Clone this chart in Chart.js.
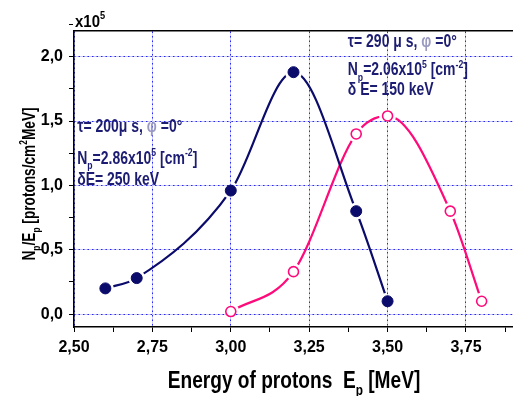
<!DOCTYPE html>
<html>
<head>
<meta charset="utf-8">
<script src="https://cdn.jsdelivr.net/npm/chart.js@4.4.1/dist/chart.umd.min.js"></script>
<style>html,body{margin:0;padding:0;background:#fff}</style>
</head>
<body>
<canvas id="myChart" width="513" height="396"></canvas>
<script>
// --- DONNÉES ---
const energie200 = [2.6, 2.7, 3.0, 3.2, 3.4, 3.5];
const flux200 = [0.20, 0.28, 0.96, 1.88, 0.80, 0.10];
const energie290 = [3.0, 3.2, 3.4, 3.5, 3.7, 3.8];
const flux290 = [0.02, 0.33, 1.40, 1.54, 0.80, 0.10];
const xTicks = [2.50, 2.75, 3.00, 3.25, 3.50, 3.75];
const yTicks = [0.0, 0.5, 1.0, 1.5, 2.0];

const police = "'Liberation Sans', Arial, sans-serif";
const bleu = '#0b0b6b';
const rose = '#ff0a7a';
const texteBleu = '#1c1c72';
const phiGris = '#9a9ac0';

// ticks secondaires au milieu des principaux
const xMineurs = xTicks.map(v => v + 0.125);
const yMineurs = yTicks.map(v => v + 0.25);
const estMajeur = (liste, v) => liste.some(t => Math.abs(t - v) < 1e-6);
const points = (xs, ys) => xs.map((x, i) => ({ x: x, y: ys[i] }));

// --- TEXTE AVEC INDICES / EXPOSANTS (police étroite simulée par 'serre') ---
function texteRiche(ctx, x, y, morceaux, taille, couleur, serre = 1, dessiner = true) {
    let cx = 0;
    ctx.save();
    ctx.translate(x, y);
    ctx.scale(serre, 1);
    morceaux.forEach(m => {
        const [txt, mode, col] = m;
        const t = mode ? taille * 0.62 : taille;
        const dy = mode === 'sub' ? taille * 0.3 : mode === 'sup' ? -taille * 0.45 : 0;
        ctx.font = 'bold ' + t + 'px ' + police;
        if (dessiner) {
            ctx.fillStyle = col || couleur;
            ctx.fillText(txt, cx, dy);
        }
        cx += ctx.measureText(txt).width;
    });
    ctx.restore();
    return cx * serre;
}

const annotations = [
    { x: 2.51, lignes: [
        { y: 1.418, m: [['τ= 200μ s, '], ['φ', '', phiGris], [' =0°']] },
        { y: 1.169, m: [['N'], ['p', 'sub'], ['=2.86x10'], ['5', 'sup'], [' [cm'], ['-2', 'sup'], [']']] },
        { y: 1.005, m: [['δE= 250 keV']] }
    ] },
    { x: 3.373, lignes: [
        { y: 2.076, m: [['τ= 290 μ s, '], ['φ', '', phiGris], [' =0°']] },
        { y: 1.855, m: [['N'], ['p', 'sub'], ['=2.06x10'], ['5', 'sup'], [' [cm'], ['-2', 'sup'], [']']] },
        { y: 1.705, m: [['δ E= 150 keV']] }
    ] }
];

const textes = {
    id: 'textes',
    afterDraw(chart) {
        const ctx = chart.ctx, sx = chart.scales.x, sy = chart.scales.y;
        ctx.save();
        ctx.textBaseline = 'alphabetic';
        ctx.textAlign = 'left';
        // x10^5
        texteRiche(ctx, 75, 27, [['x10'], ['5', 'sup']], 17, '#000', 0.88);
        // annotations
        annotations.forEach(a => {
            a.lignes.forEach(l => {
                texteRiche(ctx, sx.getPixelForValue(a.x), sy.getPixelForValue(l.y), l.m, 17.5, texteBleu, 0.8);
            });
        });
        // titre X
        const titreX = [['Energy of protons  E'], ['p', 'sub'], [' [MeV]']];
        const lx = texteRiche(ctx, 0, 0, titreX, 24.5, '#000', 0.78, false);
        texteRiche(ctx, 294 - lx / 2, 388, titreX, 24.5, '#000', 0.78);
        // titre Y
        const titreY = [['N'], ['p', 'sub'], ['/E'], ['p', 'sub'], [' [protons/cm'], ['2', 'sup'], ['MeV]']];
        const ly = texteRiche(ctx, 0, 0, titreY, 17.5, '#000', 0.78, false);
        ctx.translate(35, 184);
        ctx.rotate(-Math.PI / 2);
        texteRiche(ctx, -ly / 2, 0, titreY, 17.5, '#000', 0.78);
        ctx.restore();
    }
};

// coupe la courbe autour des marqueurs (comme Origin)
const trous = {
    id: 'trous',
    beforeDatasetDraw(chart, args) {
        const ds = chart.data.datasets[args.index];
        if (!ds.rayonTrou) return;
        const ctx = chart.ctx, r = ds.rayonTrou;
        ctx.save();
        ctx.beginPath();
        ctx.rect(0, 0, chart.width, chart.height);
        args.meta.data.forEach(p => {
            ctx.moveTo(p.x + r, p.y);
            ctx.arc(p.x, p.y, r, 0, Math.PI * 2, true);
        });
        ctx.clip('evenodd');
    },
    afterDatasetDraw(chart, args) {
        if (chart.data.datasets[args.index].rayonTrou) chart.ctx.restore();
    }
};

const policeTicks = { family: police, size: 16, weight: 'bold' };
const sansMarge = s => { s.paddingLeft = 0; s.paddingRight = 0; s.paddingTop = 0; s.paddingBottom = 0; };

const config = {
    type: 'scatter',
    data: {
        datasets: [
            { data: points(energie200, flux200), showLine: false, pointRadius: 5.5,
              pointBackgroundColor: bleu, pointBorderColor: bleu, pointBorderWidth: 1, order: 0 },
            { data: points(energie290, flux290), showLine: false, pointRadius: 5,
              pointBackgroundColor: '#fff', pointBorderColor: rose, pointBorderWidth: 1.6, order: 0 },
            { data: points(energie200, flux200), showLine: true, pointRadius: 0, borderColor: bleu,
              borderWidth: 2.2, cubicInterpolationMode: 'monotone', rayonTrou: 8.5, order: 1 },
            { data: points(energie290, flux290), showLine: true, pointRadius: 0, borderColor: rose,
              borderWidth: 2.2, cubicInterpolationMode: 'monotone', rayonTrou: 8.5, order: 1 }
        ]
    },
    options: {
        responsive: false,
        animation: false,
        layout: { padding: 0, autoPadding: false },
        scales: {
            x: {
                type: 'linear', position: 'bottom', min: 2.5, max: 3.9,
                afterBuildTicks: s => { s.ticks = [...xTicks, ...xMineurs].sort((a, b) => a - b).map(v => ({ value: v })); },
                afterFit: s => { s.height = 69; sansMarge(s); },
                ticks: { font: policeTicks, color: '#000', padding: 6, maxRotation: 0, autoSkip: false,
                    callback: v => estMajeur(xTicks, v) ? v.toFixed(2).replace('.', ',') : '' },
                grid: { color: c => c.tick && estMajeur(xTicks, c.tick.value) ? '#ccccff' : 'rgba(0,0,0,0)',
                    tickColor: '#000', tickLength: 5, lineWidth: 1 },
                border: { color: '#000', width: 1.5 }
            },
            xHaut: {
                type: 'linear', position: 'top', min: 2.5, max: 3.9,
                afterBuildTicks: s => { s.ticks = xTicks.map(v => ({ value: v })); },
                afterFit: s => { s.height = 31; sansMarge(s); },
                ticks: { display: false },
                grid: { color: '#2626f5', drawTicks: false, lineWidth: 1 },
                border: { color: '#000', width: 1.5, dash: [1.5, 3] }
            },
            y: {
                type: 'linear', position: 'left', min: -0.1, max: 2.2,
                afterBuildTicks: s => { s.ticks = [...yTicks, ...yMineurs].sort((a, b) => a - b).map(v => ({ value: v })); },
                afterFit: s => { s.width = 74; sansMarge(s); },
                ticks: { font: policeTicks, color: '#000', padding: 6,
                    callback: v => estMajeur(yTicks, v) ? v.toFixed(1).replace('.', ',') : '' },
                grid: { color: c => c.tick && estMajeur(yTicks, c.tick.value) ? '#ccccff' : 'rgba(0,0,0,0)',
                    tickColor: '#000', tickLength: 5, lineWidth: 1 },
                border: { color: '#000', width: 1.5 }
            },
            yDroite: {
                type: 'linear', position: 'right', min: -0.1, max: 2.2,
                afterBuildTicks: s => { s.ticks = yTicks.map(v => ({ value: v })); },
                afterFit: s => { s.width = 0; sansMarge(s); },
                ticks: { display: false },
                grid: { color: '#2626f5', drawTicks: false, lineWidth: 1 },
                border: { display: false, dash: [1.5, 3] }
            }
        },
        plugins: { legend: { display: false }, tooltip: { enabled: false } }
    },
    plugins: [trous, textes]
};

const myChart = new Chart(document.getElementById('myChart').getContext('2d'), config);
</script>
</body>
</html>
